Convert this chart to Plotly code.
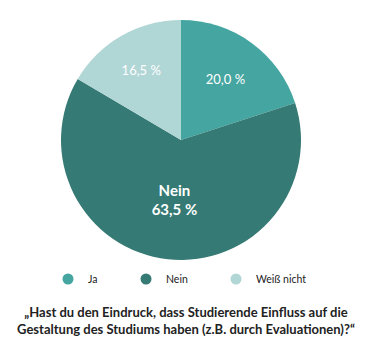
import plotly.graph_objects as go

labels = ["Ja", "Nein", "Weiß nicht"]
values = [20.0, 63.5, 16.5]
colors = ["#45a5a0", "#357a74", "#b1d6d6"]
slice_text = ["20,0 %", "<b>Nein<br>63,5 %</b>", "16,5 %"]
title_text = ("<b>„Hast du den Eindruck, dass Studierende Einfluss auf die<br>"
              "Gestaltung des Studiums haben (z.B. durch Evaluationen)?“</b>")

W, H = 372, 350
cx, cy, r = 181, 140, 120
legend_marker_x = [67, 145, 235]
legend_ids = ["legend", "legend2", "legend3"]

fig = go.Figure()
fig.add_trace(go.Pie(
    labels=labels, values=values, text=slice_text,
    sort=False, direction="clockwise", rotation=0,
    marker=dict(colors=colors, line=dict(width=0)),
    textinfo="text", texttemplate="%{text}", textposition="inside",
    insidetextorientation="horizontal",
    textfont=dict(family="Lato", size=[13, 15, 13], color="white"),
    hoverinfo="label+percent",
    showlegend=False,
    domain=dict(x=[(cx - r) / W, (cx + r) / W], y=[(H - cy - r) / H, (H - cy + r) / H]),
))

# circular legend entries, one small legend per entry
for lab, col, lid in zip(labels, colors, legend_ids):
    fig.add_trace(go.Scatter(x=[None], y=[None], mode="markers", name=lab,
                             marker=dict(color=col, size=11, symbol="circle"),
                             hoverinfo="skip", legend=lid))

legend_style = dict(orientation="h", xanchor="left", y=(H - 279) / H, yanchor="middle",
                    font=dict(family="Lato", size=10.5, color="#222"),
                    bgcolor="rgba(0,0,0,0)")
layout_legends = {lid: dict(x=(mx - 19) / W, **legend_style)
                  for lid, mx in zip(legend_ids, legend_marker_x)}

fig.update_layout(
    width=W, height=H,
    margin=dict(l=0, r=0, t=0, b=0),
    paper_bgcolor="white",
    plot_bgcolor="rgba(0,0,0,0)",
    xaxis=dict(visible=False),
    yaxis=dict(visible=False),
    font=dict(family="Lato", color="#222"),
    showlegend=True,
    title=dict(text=title_text, x=0.5, xanchor="center", y=(H - 317) / H, yanchor="middle",
               font=dict(family="Lato", size=13, color="#222")),
    **layout_legends,
)

fig.write_html("out.html")
